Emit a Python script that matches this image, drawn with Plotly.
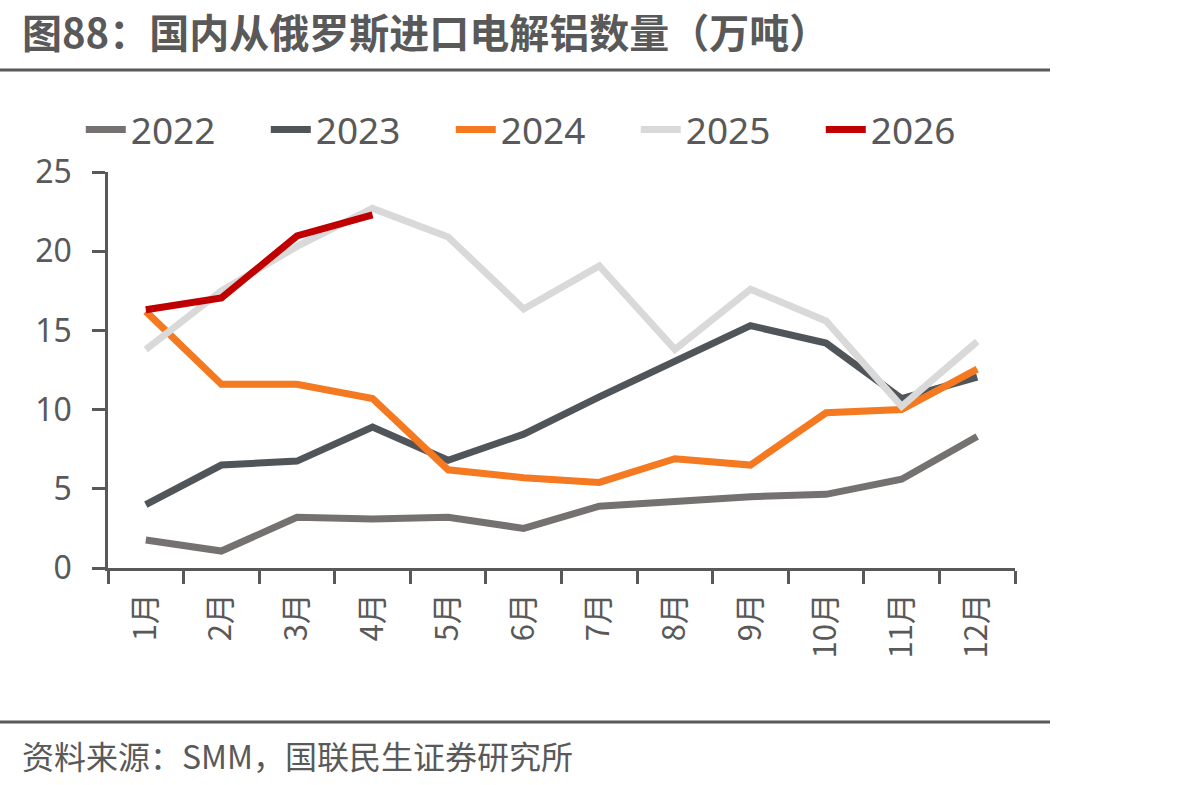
import plotly.graph_objects as go

months = ["1月", "2月", "3月", "4月", "5月", "6月", "7月", "8月", "9月", "10月", "11月", "12月"]
v2022 = [1.77, 1.07, 3.2, 3.1, 3.2, 2.5, 3.9, 4.2, 4.5, 4.65, 5.6, 8.3]
v2023 = [4.0, 6.5, 6.75, 8.9, 6.8, 8.45, 10.8, 13.1, 15.3, 14.2, 10.7, 12.05]
v2024 = [16.2, 11.6, 11.6, 10.7, 6.2, 5.7, 5.4, 6.9, 6.5, 9.8, 10.0, 12.56]
v2025 = [13.8, 17.5, 20.3, 22.7, 20.9, 16.35, 19.07, 13.8, 17.6, 15.6, 10.2, 14.3]
v2026 = [16.3, 17.05, 20.96, 22.3]
years = ["2022", "2023", "2024", "2025", "2026"]
colors = ["#767171", "#50555A", "#F47920", "#D9D9D9", "#C00000"]
y_ticks = [0, 5, 10, 15, 20, 25]

TEXT = "#595959"
fig = go.Figure()
series = [v2022, v2023, v2024, v2025, v2026]
for name, vals, col in zip(years, series, colors):
    fig.add_trace(go.Scatter(
        x=months[:len(vals)], y=vals, name=name, mode="lines",
        line=dict(color=col, width=7),
    ))

fig.update_layout(
    width=1199, height=785,
    margin=dict(l=108, r=184, t=172, b=217),
    paper_bgcolor="white", plot_bgcolor="white",
    font=dict(family="Noto Sans, Noto Sans CJK SC", color=TEXT, size=30),
    legend=dict(orientation="h", x=-0.03, xanchor="left", y=1.106, yanchor="middle",
                font=dict(size=37, color=TEXT), entrywidth=130, entrywidthmode="pixels",
                itemwidth=40, bgcolor="rgba(0,0,0,0)"),
    showlegend=True,
)
fig.update_xaxes(
    type="category", categoryorder="array", categoryarray=months, range=[-0.5, 11.5],
    showline=True, linecolor=TEXT, linewidth=2.5,
    ticks="outside", tickson="boundaries", ticklen=13, tickwidth=2.5, tickcolor=TEXT,
    tickangle=-90, tickfont=dict(size=31, color=TEXT, family="Noto Sans CJK SC"),
    showgrid=False, zeroline=False, ticklabelstandoff=10,
)
fig.update_yaxes(
    range=[0, 25], tickvals=y_ticks, showline=True, linecolor=TEXT, linewidth=2.5,
    ticks="outside", ticklen=13, tickwidth=2.5, tickcolor=TEXT,
    tickfont=dict(size=32, color=TEXT), showgrid=False, zeroline=False,
    ticklabelstandoff=14,
)

fig.add_annotation(text="<b>图88：国内从俄罗斯进口电解铝数量（万吨）</b>", xref="paper", yref="paper",
                   x=(20 - 108) / 907, y=1 + (172 - 31) / 396, xanchor="left", yanchor="middle",
                   showarrow=False, font=dict(size=40, color=TEXT, family="Noto Sans CJK SC"))
fig.add_annotation(text="资料来源：SMM，国联民生证券研究所", xref="paper", yref="paper",
                   x=(20 - 108) / 907, y=-(755 - 568) / 396, xanchor="left", yanchor="middle",
                   showarrow=False, font=dict(size=32, color=TEXT, family="Noto Sans CJK SC"))
fig.add_shape(type="line", xref="paper", yref="paper", x0=-108 / 907, x1=(1050 - 108) / 907,
              y0=1 + (172 - 70) / 396, y1=1 + (172 - 70) / 396, line=dict(color=TEXT, width=3))
fig.add_shape(type="line", xref="paper", yref="paper", x0=-108 / 907, x1=(1050 - 108) / 907,
              y0=-(722 - 568) / 396, y1=-(722 - 568) / 396, line=dict(color=TEXT, width=3))

fig.write_html("out.html")
